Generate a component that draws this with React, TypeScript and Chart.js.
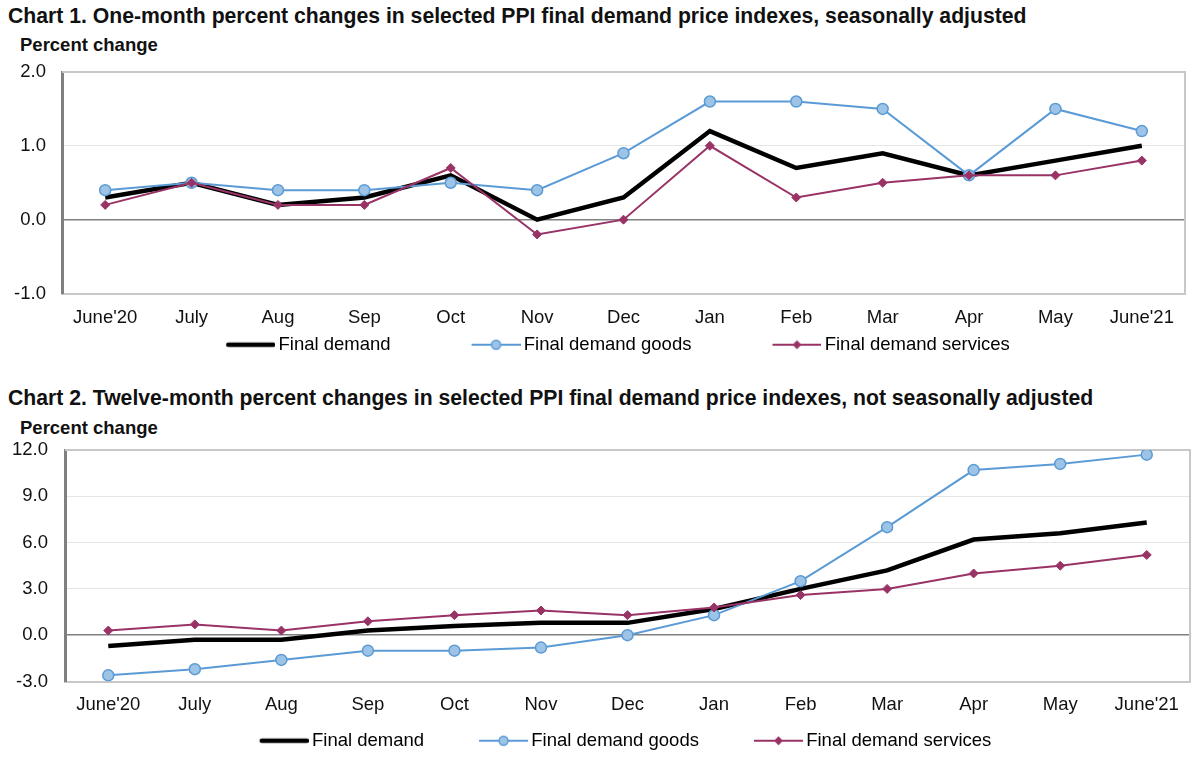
import React, { useEffect, useRef } from 'react';
import { Chart, registerables } from 'chart.js';

Chart.register(...registerables);

// ---------- data ----------
const months = ["June'20", 'July', 'Aug', 'Sep', 'Oct', 'Nov', 'Dec', 'Jan', 'Feb', 'Mar', 'Apr', 'May', "June'21"];
const seriesNames = ['Final demand', 'Final demand goods', 'Final demand services'];

const oneMonthFinalDemand = [0.3, 0.5, 0.2, 0.3, 0.6, 0.0, 0.3, 1.2, 0.7, 0.9, 0.6, 0.8, 1.0];
const oneMonthGoods = [0.4, 0.5, 0.4, 0.4, 0.5, 0.4, 0.9, 1.6, 1.6, 1.5, 0.6, 1.5, 1.2];
const oneMonthServices = [0.2, 0.5, 0.2, 0.2, 0.7, -0.2, 0.0, 1.0, 0.3, 0.5, 0.6, 0.6, 0.8];

const twelveMonthFinalDemand = [-0.7, -0.3, -0.3, 0.3, 0.6, 0.8, 0.8, 1.7, 3.0, 4.2, 6.2, 6.6, 7.3];
const twelveMonthGoods = [-2.6, -2.2, -1.6, -1.0, -1.0, -0.8, 0.0, 1.3, 3.5, 7.0, 10.7, 11.1, 11.7];
const twelveMonthServices = [0.3, 0.7, 0.3, 0.9, 1.3, 1.6, 1.3, 1.8, 2.6, 3.0, 4.0, 4.5, 5.2];

const chart1Title = 'Chart 1. One-month percent changes in selected PPI final demand price indexes, seasonally adjusted';
const chart2Title = 'Chart 2. Twelve-month percent changes in selected PPI final demand price indexes, not seasonally adjusted';
const yAxisTitle = 'Percent change';

const chart1YRange = [-1, 2];
const chart1YStep = 1;
const chart2YRange = [-3, 12];
const chart2YStep = 3;

// ---------- styles ----------
const FONT = "'Liberation Sans', Arial, Helvetica, sans-serif";
const BLACK = '#000000';
const BLUE = '#5b9bd5';
const BLUE_FILL = '#9dc3e6';
const PURPLE = '#993366';
const TICK_SIZE = 18.5;
const LEGEND_SIZE = 18.5;

function makeIcon(kind: number, boxW: number, ext: number, lineLen: number): HTMLCanvasElement {
  const c = document.createElement('canvas');
  const W = boxW + 2 * ext;
  c.width = W;
  c.height = 14;
  const g = c.getContext('2d')!;
  const y = 7;
  const x0 = W - lineLen;
  if (kind === 0) {
    g.strokeStyle = BLACK;
    g.lineWidth = 4.5;
    g.lineCap = 'round';
    g.beginPath();
    g.moveTo(x0 + 2, y);
    g.lineTo(W - 2, y);
    g.stroke();
  } else if (kind === 1) {
    g.strokeStyle = BLUE;
    g.lineWidth = 2;
    g.beginPath();
    g.moveTo(x0, y);
    g.lineTo(W, y);
    g.stroke();
    g.beginPath();
    g.arc(x0 + lineLen / 2, y, 4.5, 0, Math.PI * 2);
    g.fillStyle = BLUE_FILL;
    g.fill();
    g.lineWidth = 1.5;
    g.stroke();
  } else {
    g.strokeStyle = PURPLE;
    g.lineWidth = 2;
    g.beginPath();
    g.moveTo(x0, y);
    g.lineTo(W, y);
    g.stroke();
    const cx = x0 + lineLen / 2;
    g.beginPath();
    g.moveTo(cx, y - 4.5);
    g.lineTo(cx + 4.5, y);
    g.lineTo(cx, y + 4.5);
    g.lineTo(cx - 4.5, y);
    g.closePath();
    g.fillStyle = PURPLE;
    g.fill();
  }
  return c;
}

const framePlugin = {
  id: 'frame',
  beforeDatasetsDraw(chart: any) {
    const { ctx, chartArea } = chart;
    const { left, right, top, bottom } = chartArea;
    ctx.save();
    ctx.strokeStyle = '#c8c8c8';
    ctx.lineWidth = 2;
    ctx.beginPath();
    ctx.moveTo(left, top);
    ctx.lineTo(right, top);
    ctx.lineTo(right, bottom);
    ctx.stroke();
    ctx.restore();
  },
};

type PanelProps = {
  left: number;
  top: number;
  width: number;
  height: number;
  values: number[][];
  yRange: number[];
  yStep: number;
  layoutPadding: { top: number; right: number; bottom: number; left: number };
  yAxisWidth: number;
  yTickPadding: number;
  xAxisHeight: number;
  xTickPadding: number;
  legendPadding: number;
  legendBoxW: number;
  legendExt: number;
  legendLine: number;
};

function PPIChart(p: PanelProps) {
  const ref = useRef<HTMLCanvasElement>(null);
  useEffect(() => {
    const icons = [0, 1, 2].map((k) => makeIcon(k, p.legendBoxW, p.legendExt, p.legendLine));
    const chart = new Chart(ref.current!, {
      type: 'line',
      data: {
        labels: months,
        datasets: [
          {
            label: seriesNames[0],
            data: p.values[0],
            borderColor: BLACK,
            backgroundColor: BLACK,
            borderWidth: 4.5,
            pointRadius: 0,
            tension: 0,
            order: 2,
          },
          {
            label: seriesNames[1],
            data: p.values[1],
            borderColor: BLUE,
            backgroundColor: BLUE_FILL,
            borderWidth: 2,
            pointRadius: 5.5,
            pointBorderWidth: 1.5,
            pointBorderColor: BLUE,
            pointBackgroundColor: BLUE_FILL,
            tension: 0,
            order: 1,
          },
          {
            label: seriesNames[2],
            data: p.values[2],
            borderColor: PURPLE,
            backgroundColor: PURPLE,
            borderWidth: 2,
            pointStyle: 'rectRot',
            pointRadius: 4.5,
            pointBorderWidth: 1,
            pointBorderColor: PURPLE,
            pointBackgroundColor: PURPLE,
            tension: 0,
            order: 0,
          },
        ],
      },
      options: {
        responsive: false,
        animation: false,
        layout: { padding: p.layoutPadding },
        plugins: {
          tooltip: { enabled: false },
          title: { display: false },
          legend: {
            display: true,
            position: 'bottom',
            align: 'center',
            labels: {
              usePointStyle: true,
              pointStyleWidth: p.legendBoxW,
              padding: p.legendPadding,
              color: '#111',
              font: { size: LEGEND_SIZE, family: FONT },
              generateLabels: () =>
                seriesNames.map((name, i) => ({
                  text: name,
                  pointStyle: icons[i] as any,
                  fillStyle: 'rgba(0,0,0,0)',
                  strokeStyle: 'rgba(0,0,0,0)',
                  lineWidth: 0,
                  hidden: false,
                  datasetIndex: i,
                })),
            },
          },
        },
        scales: {
          x: {
            type: 'category',
            offset: true,
            grid: { display: false, drawTicks: false },
            border: { display: true, color: '#c8c8c8', width: 2 },
            ticks: {
              color: '#111',
              font: { size: TICK_SIZE, family: FONT },
              padding: p.xTickPadding,
              maxRotation: 0,
              autoSkip: false,
            },
            afterFit: (scale: any) => {
              scale.height = p.xAxisHeight;
            },
          },
          y: {
            type: 'linear',
            min: p.yRange[0],
            max: p.yRange[1],
            grid: {
              drawTicks: false,
              color: (ctx: any) => (ctx.tick && ctx.tick.value === 0 ? '#808080' : '#e6e6e6'),
              lineWidth: (ctx: any) => (ctx.tick && ctx.tick.value === 0 ? 1.5 : 1),
            },
            border: { display: true, color: '#808080', width: 3 },
            ticks: {
              stepSize: p.yStep,
              color: '#111',
              font: { size: TICK_SIZE, family: FONT },
              padding: p.yTickPadding,
              callback: (v: any) => Number(v).toFixed(1),
            },
            afterFit: (scale: any) => {
              scale.width = p.yAxisWidth;
            },
          },
        },
      },
      plugins: [framePlugin],
    } as any);
    return () => chart.destroy();
  }, []);
  return (
    <canvas
      ref={ref}
      width={p.width}
      height={p.height}
      style={{ position: 'absolute', left: p.left, top: p.top, width: p.width, height: p.height }}
    />
  );
}

function Label(props: { text: string; left: number; centerY: number; size: number }) {
  return (
    <div
      style={{
        position: 'absolute',
        left: props.left,
        top: props.centerY - props.size / 2,
        fontSize: props.size,
        lineHeight: `${props.size}px`,
        fontWeight: 'bold',
        fontFamily: FONT,
        color: '#111',
        whiteSpace: 'nowrap',
      }}
    >
      {props.text}
    </div>
  );
}

export default function App() {
  return (
    <div
      style={{
        position: 'fixed',
        left: 0,
        top: 0,
        width: 1200,
        height: 757,
        overflow: 'hidden',
        background: '#ffffff',
      }}
    >
      <Label text={chart1Title} left={8} centerY={16} size={21.2} />
      <Label text={yAxisTitle} left={20} centerY={45} size={18.5} />
      <PPIChart
        left={-26}
        top={42}
        width={1226}
        height={324}
        values={[oneMonthFinalDemand, oneMonthGoods, oneMonthServices]}
        yRange={chart1YRange}
        yStep={chart1YStep}
        layoutPadding={{ top: 30, right: 15, bottom: 2, left: 0 }}
        yAxisWidth={88}
        yTickPadding={16}
        xAxisHeight={38}
        xTickPadding={13}
        legendPadding={4}
        legendBoxW={120}
        legendExt={6}
        legendLine={49}
      />
      <Label text={chart2Title} left={8} centerY={398} size={21.2} />
      <Label text={yAxisTitle} left={20} centerY={428} size={18.5} />
      <PPIChart
        left={6}
        top={420}
        width={1194}
        height={341}
        values={[twelveMonthFinalDemand, twelveMonthGoods, twelveMonthServices]}
        yRange={chart2YRange}
        yStep={chart2YStep}
        layoutPadding={{ top: 30, right: 10, bottom: 1, left: 0 }}
        yAxisWidth={59}
        yTickPadding={17}
        xAxisHeight={50}
        xTickPadding={12}
        legendPadding={0}
        legendBoxW={98}
        legendExt={6}
        legendLine={49}
      />
    </div>
  );
}
